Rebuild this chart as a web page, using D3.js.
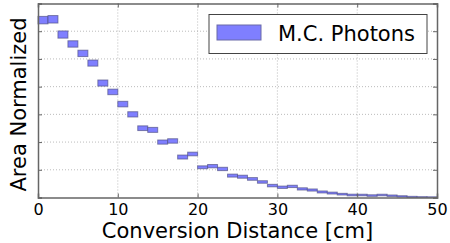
<!DOCTYPE html>
<html>
<head>
<meta charset="utf-8">
<script src="https://cdn.jsdelivr.net/npm/d3@7"></script>
<style>
  body { margin: 0; background: #fff; }
  text { font-family: "DejaVu Sans", sans-serif; fill: #000; }
</style>
</head>
<body>
<div id="chart"></div>
<script>
// histogram bins (cm), 40 bins of 1.25 cm
var binEdges = d3.range(0, 50, 1.25);
var binWidth = 1.25;

// normalized area per bin and its error
var values = [0.0640, 0.0643, 0.0588, 0.0554, 0.0520, 0.0485, 0.0413, 0.0381, 0.0337, 0.0300,
              0.0250, 0.0244, 0.0200, 0.0204, 0.0146, 0.0157, 0.0109, 0.0113, 0.0103, 0.0079,
              0.0075, 0.0067, 0.0056, 0.0043, 0.0037, 0.0040, 0.0031, 0.0027, 0.0020, 0.0016,
              0.0012, 0.0009, 0.0009, 0.0007, 0.0009, 0.00065, 0.0004, 0.0002, 0.0001, 0.00005];
var errors = [0.00135, 0.00135, 0.0013, 0.00115, 0.00115, 0.0011, 0.0011, 0.001, 0.001, 0.00095,
              0.00085, 0.0009, 0.00075, 0.0008, 0.00072, 0.00066, 0.00052, 0.0006, 0.0006, 0.00054,
              0.00054, 0.00048, 0.00045, 0.00045, 0.00042, 0.00042, 0.0004, 0.00038, 0.00036, 0.00034,
              0.0003, 0.0003, 0.00028, 0.00028, 0.00028, 0.00026, 0.00024, 0.00022, 0.0002, 0.0002];

var xTicks = [0, 10, 20, 30, 40, 50];
var yTicks = [0, 0.01, 0.02, 0.03, 0.04, 0.05, 0.06, 0.07];
var seriesName = "M.C. Photons";

var svgwidth = 450;
var svgheight = 243;
var margin = { top: 3.5, right: 13, bottom: 45.5, left: 38 };
var width = svgwidth - margin.left - margin.right;
var height = svgheight - margin.top - margin.bottom;

var svg = d3.select("#chart").append("svg")
  .attr("width", svgwidth)
  .attr("height", svgheight);

var chartgroup = svg.append("g")
  .attr("transform", `translate(${margin.left}, ${margin.top})`);

var xscale = d3.scaleLinear().domain([0, 50]).range([0, width]);
var yscale = d3.scaleLinear().domain([0, 0.07]).range([height, 0]);

// grid
chartgroup.append("g").selectAll("line").data(xTicks.slice(1, -1)).enter()
  .append("line")
  .attr("x1", d => xscale(d)).attr("x2", d => xscale(d))
  .attr("y1", 0).attr("y2", height)
  .attr("stroke", "#aaa").attr("stroke-width", 0.8).attr("stroke-dasharray", "1,2");

chartgroup.append("g").selectAll("line").data(yTicks.slice(1, -1)).enter()
  .append("line")
  .attr("x1", 0).attr("x2", width)
  .attr("y1", d => yscale(d)).attr("y2", d => yscale(d))
  .attr("stroke", "#aaa").attr("stroke-width", 0.8).attr("stroke-dasharray", "1,2");

// error boxes
chartgroup.append("g").selectAll("rect").data(values).enter()
  .append("rect")
  .attr("x", (d, i) => xscale(binEdges[i]))
  .attr("width", (d, i) => xscale(binEdges[i] + binWidth) - xscale(binEdges[i]))
  .attr("y", (d, i) => yscale(Math.min(0.07, d + errors[i])))
  .attr("height", (d, i) => yscale(Math.max(0, d - errors[i])) - yscale(Math.min(0.07, d + errors[i])))
  .attr("fill", "#7f7fff")
  .attr("stroke", "#4d4d80")
  .attr("stroke-opacity", 0.65)
  .attr("stroke-width", 1);

// axes with inward ticks on all sides
var xaxis = d3.axisBottom(xscale).tickValues(xTicks).tickSize(-4).tickPadding(6);
var xaxisTop = d3.axisTop(xscale).tickValues(xTicks).tickSize(-4).tickFormat("");
var yaxis = d3.axisLeft(yscale).tickValues(yTicks).tickSize(-4).tickFormat("");
var yaxisRight = d3.axisRight(yscale).tickValues(yTicks).tickSize(-4).tickFormat("");

var gx = chartgroup.append("g").attr("transform", `translate(0, ${height})`).call(xaxis);
var gxt = chartgroup.append("g").call(xaxisTop);
var gy = chartgroup.append("g").call(yaxis);
var gyr = chartgroup.append("g").attr("transform", `translate(${width}, 0)`).call(yaxisRight);

[gx, gxt, gy, gyr].forEach(function(g) {
  g.select(".domain").attr("stroke", "#666").attr("stroke-width", 1.5);
  g.selectAll(".tick line").attr("stroke", "#666");
});
gx.selectAll(".tick text")
  .attr("font-family", "DejaVu Sans, sans-serif")
  .attr("font-size", "16px")
  .attr("fill", "#000");

// axis labels
chartgroup.append("text")
  .attr("x", width / 2)
  .attr("y", height + 40.5)
  .style("text-anchor", "middle")
  .attr("font-size", "21px")
  .text("Conversion Distance [cm]");

chartgroup.append("text")
  .attr("transform", `translate(${-12}, ${height / 2 + 4}) rotate(-90)`)
  .style("text-anchor", "middle")
  .attr("font-size", "21px")
  .text("Area Normalized");

// legend
var legend = chartgroup.append("g").attr("transform", `translate(${209 - margin.left}, ${14.5 - margin.top})`);
legend.append("rect")
  .attr("width", 218).attr("height", 39)
  .attr("fill", "#fff").attr("stroke", "#444").attr("stroke-width", 1);
legend.append("rect")
  .attr("x", 8).attr("y", 10.5).attr("width", 44).attr("height", 15)
  .attr("fill", "#7f7fff").attr("stroke", "#6a6aa8").attr("stroke-width", 1);
legend.append("text")
  .attr("x", 69).attr("y", 26)
  .attr("font-size", "21px")
  .text(seriesName);
</script>
</body>
</html>
